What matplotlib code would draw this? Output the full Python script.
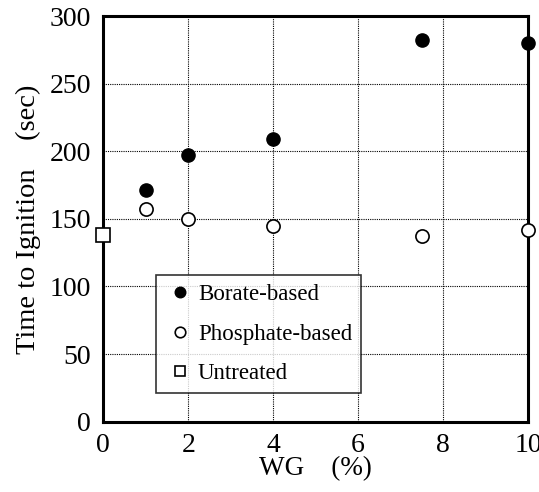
import matplotlib
matplotlib.use("Agg")
import matplotlib.pyplot as plt

# values
wg = [1, 2, 4, 7.5, 10]
borate = [171, 197, 209, 282, 280]
phosphate = [157, 150, 145, 137, 142]
untreated_x = [0]
untreated_y = [138]

plt.rcParams['font.family'] = ['Liberation Serif', 'DejaVu Serif']

fig = plt.figure(figsize=(5.39, 4.92), dpi=100)
ax = fig.add_axes([103.3 / 539, 1 - 421.7 / 492, (528 - 103.3) / 539, (421.7 - 16) / 492])

ax.plot(wg, borate, 'o', color='black', ms=9.5, clip_on=False, label='Borate-based', zorder=3)
ax.plot(wg, phosphate, 'o', mfc='white', mec='black', mew=1.2, ms=9.5, clip_on=False,
        label='Phosphate-based', zorder=3)
ax.plot(untreated_x, untreated_y, 's', mfc='white', mec='black', mew=1.2, ms=9.5, clip_on=False,
        label='Untreated', zorder=3)

ax.set_xlim(0, 10)
ax.set_ylim(0, 300)
ax.set_xticks([0, 2, 4, 6, 8, 10])
ax.set_yticks([0, 50, 100, 150, 200, 250, 300])
ax.grid(True, color='black', linestyle=(0, (1, 1)), linewidth=0.8)
ax.set_axisbelow(True)
ax.tick_params(length=0, labelsize=20)
ax.tick_params(axis='y', pad=9)
ax.tick_params(axis='x', pad=8)
for s in ax.spines.values():
    s.set_linewidth(2.2)

ax.set_xlabel('WG    (%)', fontsize=19.5, labelpad=-1)
ax.set_ylabel('Time to Ignition    (sec)', fontsize=20.5, labelpad=6)

leg = ax.legend(loc='upper left', bbox_to_anchor=((156 - 103.3) / 424.7, (421.7 - 275) / 405.7),
                fontsize=16.5, frameon=True, fancybox=False, borderpad=0.4, labelspacing=0.8,
                handletextpad=0.13, handlelength=1.3, markerscale=0.8, borderaxespad=0)
leg.get_frame().set_edgecolor('black')
leg.get_frame().set_linewidth(1.2)

fig.savefig('out.png', dpi=100)
